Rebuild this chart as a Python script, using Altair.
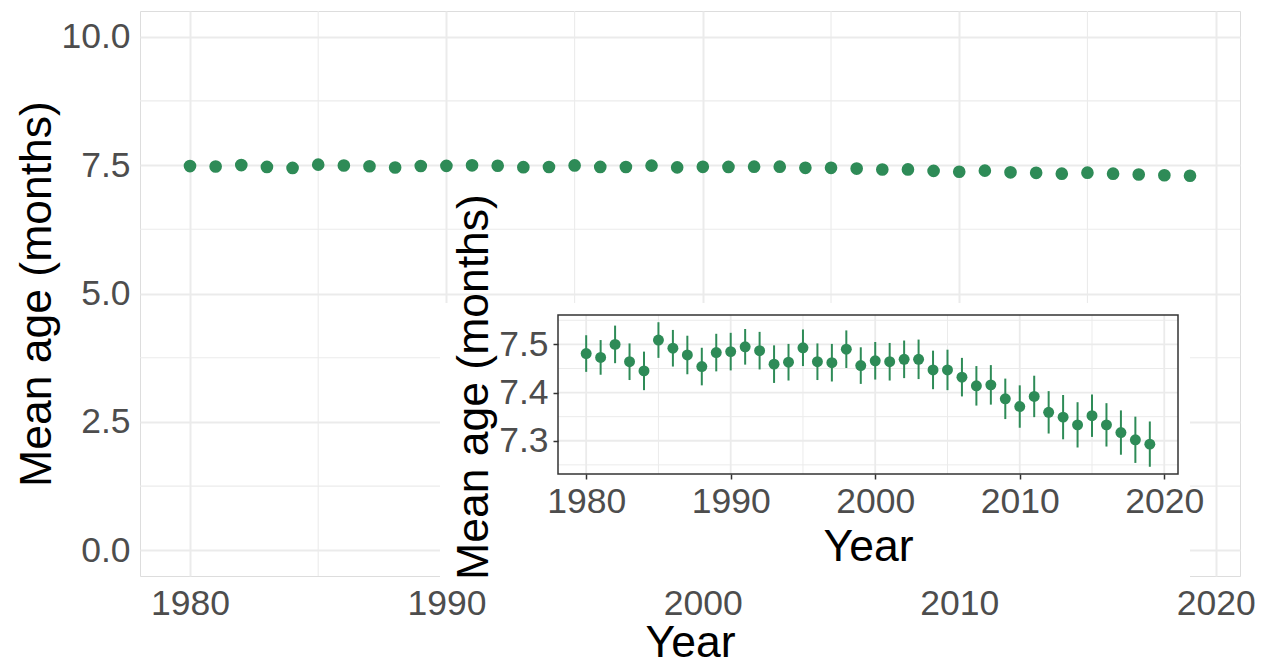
import altair as alt
import pandas as pd

# ---------------- data ----------------
years = list(range(1980, 2020))
mean_age = [7.481, 7.473, 7.500, 7.464, 7.445, 7.509, 7.492, 7.478, 7.454, 7.483,
            7.485, 7.495, 7.487, 7.459, 7.463, 7.493, 7.464, 7.462, 7.490, 7.456,
            7.466, 7.464, 7.469, 7.469, 7.447, 7.447, 7.432, 7.414, 7.416, 7.387,
            7.371, 7.392, 7.359, 7.349, 7.333, 7.352, 7.333, 7.317, 7.302, 7.293]
ci_half = [0.038, 0.036, 0.039, 0.038, 0.040, 0.037, 0.038, 0.040, 0.039, 0.039,
           0.039, 0.037, 0.039, 0.039, 0.038, 0.038, 0.038, 0.039, 0.039, 0.038,
           0.039, 0.039, 0.039, 0.041, 0.040, 0.042, 0.040, 0.041, 0.041, 0.042,
           0.044, 0.043, 0.044, 0.046, 0.047, 0.044, 0.045, 0.046, 0.048, 0.047]

main_x_ticks = [1980, 1990, 2000, 2010, 2020]
main_x_minor = [1985, 1995, 2005, 2015]
main_y_ticks = [0.0, 2.5, 5.0, 7.5, 10.0]
main_y_minor = [1.25, 3.75, 6.25, 8.75]
main_y_limits = [0.0, 10.0]

inset_x_ticks = [1980, 1990, 2000, 2010, 2020]
inset_x_minor = [1985, 1995, 2005, 2015]
inset_y_ticks = [7.3, 7.4, 7.5]
inset_y_minor = [7.25, 7.35, 7.45, 7.55]

df = pd.DataFrame({
    "year": years,
    "age": mean_age,
    "lower": [m - c for m, c in zip(mean_age, ci_half)],
    "upper": [m + c for m, c in zip(mean_age, ci_half)],
})

# ggplot-like 5% expansion of the scales
def expand(lo, hi, f=0.05):
    p = (hi - lo) * f
    return [lo - p, hi + p]

x_dom = expand(min(years), max(years))
main_y_dom = expand(*main_y_limits)
inset_y_dom = expand(float(df["lower"].min()), float(df["upper"].max()))

# ---------------- layout / style ----------------
W, H = 1100, 565
FONT = "Liberation Sans"
GREEN = "#2E8B57"
GRID = "#EBEBEB"
LABEL = "#4D4D4D"
DARK = "#333333"
LAB_SIZE = 35.5
TITLE_SIZE = 44.5

# inset panel, in pixels relative to the main plot area
IL, IR, IT, IB = 418, 1038, 304, 463

# ---------------- main panel ----------------
main_x = alt.X("year:Q", scale=alt.Scale(domain=x_dom, nice=False, zero=False),
               axis=alt.Axis(values=main_x_ticks, format="d", grid=True, gridColor=GRID,
                             gridWidth=2, domain=False, ticks=False, labelFontSize=LAB_SIZE,
                             labelColor=LABEL, labelPadding=10, labelFlush=False,
                             labelOverlap=False, title="Year", titleFontSize=TITLE_SIZE,
                             titleFontWeight="normal", titleColor="black",
                             titleBaseline="alphabetic", titleY=80, labelFont=FONT,
                             titleFont=FONT, zindex=0))
main_y = alt.Y("age:Q", scale=alt.Scale(domain=main_y_dom, nice=False, zero=False),
               axis=alt.Axis(values=main_y_ticks, format=".1f", grid=True, gridColor=GRID,
                             gridWidth=2, domain=False, ticks=False, labelFontSize=LAB_SIZE,
                             labelColor=LABEL, labelPadding=10, labelFlush=False,
                             labelOverlap=False, title="Mean age (months)",
                             titleFontSize=TITLE_SIZE, titleFontWeight="normal",
                             titleColor="black", titleAngle=270, titleBaseline="alphabetic",
                             titleX=-90, labelFont=FONT, titleFont=FONT, zindex=0))

m_minor_x = alt.Chart(pd.DataFrame({"year": main_x_minor})).mark_rule(
    color=GRID, strokeWidth=1.1).encode(x=main_x)
m_minor_y = alt.Chart(pd.DataFrame({"age": main_y_minor})).mark_rule(
    color=GRID, strokeWidth=1.1).encode(y=main_y)
m_points = alt.Chart(df).mark_circle(size=160, color=GREEN, opacity=1).encode(
    x=main_x, y=main_y)

main = alt.layer(m_minor_x, m_minor_y, m_points)

# ---------------- inset panel ----------------
inset_x_scale = alt.Scale(domain=x_dom, range=[IL, IR], nice=False, zero=False)
inset_y_scale = alt.Scale(domain=inset_y_dom, range=[IB, IT], nice=False, zero=False)
inset_x_axis = alt.Axis(orient="bottom", offset=-(H - IB), values=inset_x_ticks,
                        format="d", grid=False, domain=False, ticks=True, tickSize=5,
                        tickColor=DARK, tickWidth=1.5, labelFontSize=LAB_SIZE,
                        labelColor=LABEL, labelPadding=5, labelFlush=False,
                        labelOverlap=False, title="Year", titleFontSize=TITLE_SIZE,
                        titleFontWeight="normal", titleColor="black",
                        titleBaseline="alphabetic", titleY=86, labelFont=FONT,
                        titleFont=FONT, zindex=2)
inset_y_axis = alt.Axis(orient="left", offset=-IL, values=inset_y_ticks, format=".1f",
                        grid=False, domain=False, ticks=True, tickSize=5, tickColor=DARK,
                        tickWidth=1.5, labelFontSize=LAB_SIZE, labelColor=LABEL,
                        labelPadding=5, labelFlush=False, labelOverlap=False,
                        title="Mean age (months)", titleFontSize=TITLE_SIZE,
                        titleFontWeight="normal", titleColor="black", titleAngle=270,
                        titleBaseline="alphabetic", titleX=-71, titleY=(IT + IB) / 2 - 8,
                        labelFont=FONT, titleFont=FONT, zindex=2)
inset_x = alt.X("year:Q", scale=inset_x_scale, axis=inset_x_axis)
inset_y = alt.Y("age:Q", scale=inset_y_scale, axis=inset_y_axis)

one = alt.Data(values=[{}])
i_bg = alt.Chart(one).mark_rect(color="white", opacity=1).encode(
    x=alt.value(IL - 118), x2=alt.value(IR + 12), y=alt.value(IT - 12), y2=alt.value(H + 9))
i_gx_major = alt.Chart(pd.DataFrame({"year": inset_x_ticks})).mark_rule(
    color=GRID, strokeWidth=1.8).encode(x=inset_x, y=alt.value(IT), y2=alt.value(IB))
i_gx_minor = alt.Chart(pd.DataFrame({"year": inset_x_minor})).mark_rule(
    color=GRID, strokeWidth=1.0).encode(x=inset_x, y=alt.value(IT), y2=alt.value(IB))
i_gy_major = alt.Chart(pd.DataFrame({"age": inset_y_ticks})).mark_rule(
    color=GRID, strokeWidth=1.8).encode(y=inset_y, x=alt.value(IL), x2=alt.value(IR))
i_gy_minor = alt.Chart(pd.DataFrame({"age": inset_y_minor})).mark_rule(
    color=GRID, strokeWidth=1.0).encode(y=inset_y, x=alt.value(IL), x2=alt.value(IR))
i_err = alt.Chart(df).mark_rule(color=GREEN, strokeWidth=2).encode(
    x=inset_x, y=alt.Y("lower:Q", scale=inset_y_scale, axis=inset_y_axis), y2="upper:Q")
i_pts = alt.Chart(df).mark_circle(size=120, color=GREEN, opacity=1).encode(
    x=inset_x, y=inset_y)
i_border = alt.Chart(one).mark_rect(fill=None, stroke=DARK, strokeWidth=1.5).encode(
    x=alt.value(IL), x2=alt.value(IR), y=alt.value(IT), y2=alt.value(IB))

inset = alt.layer(i_bg, i_gx_major, i_gx_minor, i_gy_major, i_gy_minor, i_err, i_pts, i_border)

chart = alt.layer(main, inset).resolve_scale(
    x="independent", y="independent"
).resolve_axis(
    x="independent", y="independent"
).properties(
    width=W, height=H,
    padding={"left": 132, "top": 3, "right": 15, "bottom": 82},
    autosize=alt.AutoSizeParams(type="none"),
    background="white",
).configure_view(stroke=None).configure(font=FONT)

chart.save("out.html", embed_options={"renderer": "svg", "actions": False})
